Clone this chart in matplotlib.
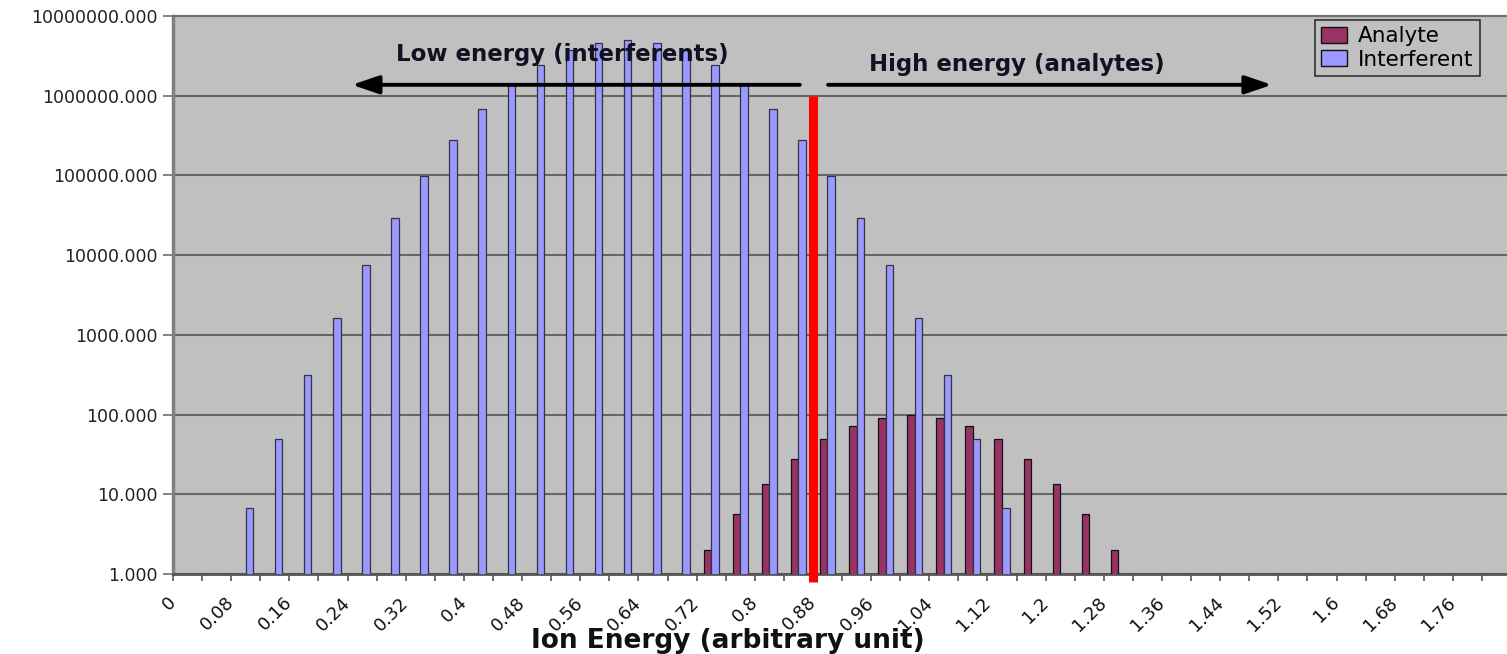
import numpy as np
import matplotlib
matplotlib.use('Agg')
import matplotlib.pyplot as plt
from matplotlib.ticker import FixedLocator, FuncFormatter
from matplotlib.transforms import ScaledTranslation
from matplotlib.patches import Patch

# categorias do eixo x (energia, passo 0.04)
categorias = ['0', '0.04', '0.08', '0.12', '0.16', '0.2', '0.24', '0.28', '0.32', '0.36',
              '0.4', '0.44', '0.48', '0.52', '0.56', '0.6', '0.64', '0.68', '0.72', '0.76',
              '0.8', '0.84', '0.88', '0.92', '0.96', '1', '1.04', '1.08', '1.12', '1.16',
              '1.2', '1.24', '1.28', '1.32', '1.36', '1.4', '1.44', '1.48', '1.52', '1.56',
              '1.6', '1.64', '1.68', '1.72', '1.76']

nan = np.nan
# contagens (escala log)
analyte = [nan, nan, nan, nan, nan, nan, nan, nan, nan, nan,
           nan, nan, nan, nan, nan, nan, nan, nan, 2.0, 5.7,
           13.5, 27.5, 49, 72, 90, 99, 90, 72, 49, 27.5,
           13.5, 5.7, 2.0, nan, nan, nan, nan, nan, nan, nan,
           nan, nan, nan, nan, nan]
interferent = [nan, nan, 6.7, 50, 310, 1650, 7500, 29500, 98000, 280000,
               680000, 1380000, 2450000, 3750000, 4600000, 5000000, 4600000, 3750000, 2450000, 1380000,
               680000, 280000, 98000, 29500, 7500, 1650, 310, 50, 6.7, nan,
               nan, nan, nan, nan, nan, nan, nan, nan, nan, nan,
               nan, nan, nan, nan, nan]

y_ticks = [1, 10, 100, 1000, 10000, 100000, 1000000, 10000000]

cor_analyte = '#993366'
cor_interf = '#9999FF'

fig = plt.figure(figsize=(15.07, 6.54), dpi=100)
ax = fig.add_axes([173 / 1507, 80 / 654, 1334 / 1507, 558 / 654])
ax.set_facecolor('#C0C0C0')

x = np.arange(len(categorias))
w = 0.26
ax.bar(x - w / 2, analyte, w, color=cor_analyte, edgecolor='#111111', linewidth=0.9, zorder=3)
ax.bar(x + w / 2, interferent, w, color=cor_interf, edgecolor='#333344', linewidth=0.9, zorder=3)

ax.set_yscale('log')
ax.set_ylim(1, 1e7)
ax.set_xlim(-0.5, 45.36)

ax.yaxis.set_major_locator(FixedLocator(y_ticks))
ax.yaxis.set_minor_locator(FixedLocator([]))
ax.yaxis.set_major_formatter(FuncFormatter(lambda v, p: '%.3f' % v))
ax.tick_params(axis='y', length=7, width=1.2, color='#707070', labelsize=12.5, labelcolor='#222222', pad=4)
ax.grid(axis='y', color='#666666', linewidth=1.5, zorder=1)

# ticks nas fronteiras das categorias, rotulos a cada duas
ax.set_xticks(x[::2])
ax.set_xticklabels(categorias[::2], rotation=45, ha='right', va='top', fontsize=13, color='#111111')
ax.set_xticks(np.arange(-0.5, 45, 1), minor=True)
ax.tick_params(axis='x', which='major', length=0, pad=14)
ax.tick_params(axis='x', which='minor', length=5, width=1.2, color='#555555')
desloc = ScaledTranslation(-8 / 100, 0, fig.dpi_scale_trans)
for lab in ax.get_xticklabels():
    lab.set_transform(lab.get_transform() + desloc)

ax.spines['right'].set_visible(False)
ax.spines['top'].set_color('#707070')
ax.spines['top'].set_linewidth(1.5)
ax.spines['left'].set_color('#808080')
ax.spines['left'].set_linewidth(2.5)
ax.spines['bottom'].set_color('#555555')
ax.spines['bottom'].set_linewidth(2)

# linha vermelha separando baixa/alta energia
ax.plot([21.5, 21.5], [0.79, 1e6], color='#FF0000', linewidth=6.5, clip_on=False, zorder=5, solid_capstyle='butt')

# setas e textos
estilo = dict(arrowstyle='-|>,head_length=0.65,head_width=0.22', color='black', lw=2.8,
              mutation_scale=25, shrinkA=0, shrinkB=0)
ax.annotate('', xy=(5.65, 1.37e6), xytext=(21.05, 1.37e6), arrowprops=estilo, zorder=6)
ax.annotate('', xy=(37.28, 1.37e6), xytext=(22.02, 1.37e6), arrowprops=estilo, zorder=6)
ax.text(12.87, 3.27e6, 'Low energy (interferents)', ha='center', va='center',
        fontsize=16.5, fontweight='bold', color='#111122', zorder=6)
ax.text(28.51, 2.43e6, 'High energy (analytes)', ha='center', va='center',
        fontsize=16.5, fontweight='bold', color='#111122', zorder=6)

# legenda
handles = [Patch(facecolor=cor_analyte, edgecolor='#111111', linewidth=1, label='Analyte'),
           Patch(facecolor=cor_interf, edgecolor='#111111', linewidth=1, label='Interferent')]
leg = fig.legend(handles=handles, loc='upper left', bbox_to_anchor=(1315 / 1507, 1 - 20 / 654),
                 fontsize=15.5, frameon=True, fancybox=False, framealpha=1,
                 facecolor='#C0C0C0', edgecolor='#333333', borderpad=0.3,
                 handlelength=1.2, handleheight=0.8, handletextpad=0.5, labelspacing=0.15,
                 borderaxespad=0)
leg.get_frame().set_linewidth(1.2)

fig.text(728 / 1507, 1 - 648 / 654, 'Ion Energy (arbitrary unit)', ha='center', va='baseline',
         fontsize=19, fontweight='bold', color='#111111')

fig.savefig('out.png', dpi=100, facecolor='white')
